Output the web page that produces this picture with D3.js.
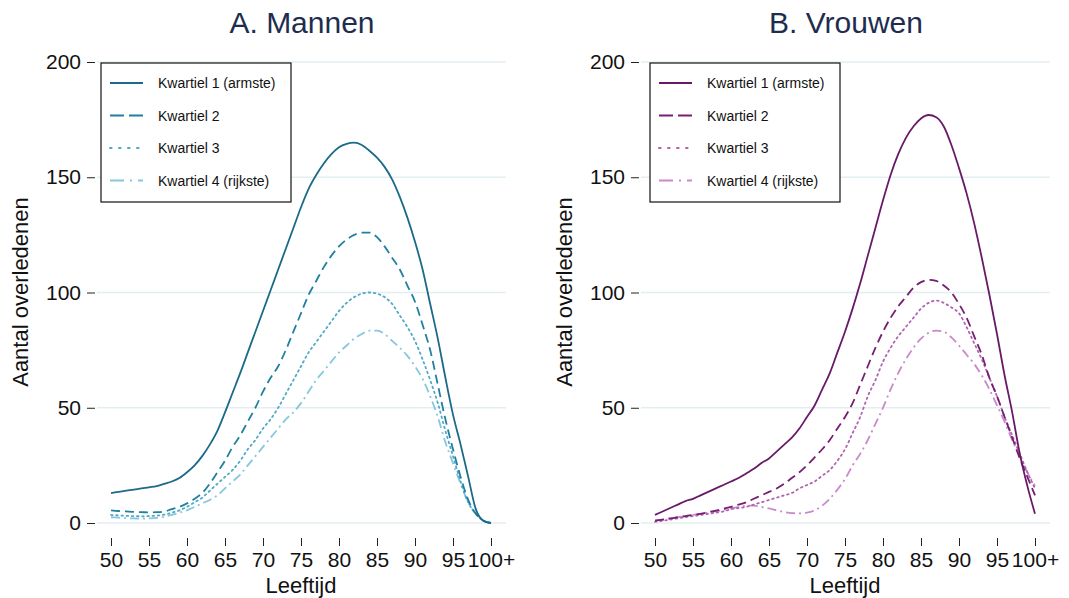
<!DOCTYPE html>
<html>
<head>
<meta charset="utf-8">
<script src="https://cdn.jsdelivr.net/npm/d3@7"></script>
<style>
  body { margin: 0; background: #fff; }
  text { font-family: "Liberation Sans", Arial, sans-serif; }
</style>
</head>
<body>
<script>
// leeftijd 50 .. 100+
var ages = [50,51,52,53,54,55,56,57,58,59,60,61,62,63,64,65,66,67,68,69,70,71,72,73,74,75,76,77,78,79,
            80,81,82,83,84,85,86,87,88,89,90,91,92,93,94,95,96,97,98,99,100];

var xTicks = [50,55,60,65,70,75,80,85,90,95,100];
var xTickLabels = ["50","55","60","65","70","75","80","85","90","95","100+"];
var yTicks = [0,50,100,150,200];

var legendLabels = ["Kwartiel 1 (armste)","Kwartiel 2","Kwartiel 3","Kwartiel 4 (rijkste)"];

// Mannen
var menQ1 = [13,13.5,14,14.5,15,15.5,16,17,18,19.5,
             22,25,29,34,40,48,56.5,65,74,83,
             92,101,110,119,128,137,145,151,156,160,
             163,164.5,165,164,161.5,158.5,154.5,149,141.5,132.5,
             122,110,95,80,63,47,34,20,6,1,0];
var menQ2 = [5.5,5.2,5,4.8,4.7,4.6,4.7,5,6,7,
             8.5,10.5,13,17,22,27,33,38,44,50,
             57,63,68,75,83,91,99,105,111,116,
             120,123,125,126,126,124,120,115,110,103,
             96,86,75,60,45,32,20,10,4,1,0];
var menQ3 = [3.5,3.3,3.1,3,2.9,3,3.2,3.6,4.5,5.5,
             7,9,11,14,17,20,23,27,32,36,
             41,45,50,56,62,68,74,78.5,83,87.5,
             92,95.5,98,99.5,100,99.5,98,95,90,85,
             79,71,62,52,40,29,18,9,4,1,0];
var menQ4 = [2.5,2.3,2.1,2,1.9,2,2.2,2.7,3.5,4.5,
             5.5,7,8.5,10,12,15,18,21,25,29,
             33,37,41,45,48,52,57,62,66,70,
             74,77,80,82,83.5,83.5,82,79,76,72.5,
             68,62.5,55,46,35,26,17,9,4,1,0];

// Vrouwen
var womenQ1 = [3.5,5,6.5,8,9.5,10.5,12,13.5,15,16.5,
               18,19.5,21.5,23.5,26,28,31,34,37,41,
               46,51,58,65,74,83,93,104,116,128,
               140,151,160,167,172,175.5,177,176,172,164,
               154,143,130,115,99,82,64,48,30,16,4];
var womenQ2 = [1,1.5,2,2.5,3,3.5,4,4.7,5.4,6.2,
               7,8,9,10.5,12,13.5,15,17,19.5,22,
               25,28.5,32,36,41,46,52,60,68,76,
               83,89,94,98,102,104.5,105.5,105,103,100,
               95,89,81,73,63,55,46,37,28,20,12];
var womenQ3 = [0.5,1,1.5,2,2.5,3,3.5,4,4.5,5,
               6,6.5,7,8,9,10,11,12,13,15,
               16.5,18,20.5,23,27,32,39,46,55,62,
               70,76,81,85,89,93,95.5,96.5,95.5,93.5,
               91,85,78,71,63,55,46,38,30,22,15];
var womenQ4 = [1,1.5,2,2.5,3,3.5,4,4.5,5,5.6,
               6.3,7,7.5,7.5,7,6.3,5.5,4.8,4.3,4.2,
               4.5,5.5,7.5,10.5,14.5,19,25,30,36,43,
               50,58,65,71,76,80,82.5,83.5,83,80.5,
               77,73,69,64,58,51,44,36,29,22,16];

var menColors = ["#1b6a87","#21809f","#4fa9c7","#86c7de"];
var womenColors = ["#681a68","#751f72","#b064b0","#c98ac9"];

// stijl per kwartiel: solid, dash, dot, dash-dot
var chartDash = [null, "9,5", "1.6,3.6", "9,4,2,4"];
var legendDash = [null, "14,5", "1.6,7.4", "14,6,2,6"];

var width = 1069, height = 598;

var svg = d3.select("body").append("svg")
    .attr("width", width)
    .attr("height", height);

var panels = [
  {title: "A. Mannen", titleX: 302, off: 0, legendX: 101, colors: menColors,
   series: [menQ1, menQ2, menQ3, menQ4]},
  {title: "B. Vrouwen", titleX: 846, off: 544, legendX: 650, colors: womenColors,
   series: [womenQ1, womenQ2, womenQ3, womenQ4]}
];

var y = d3.scaleLinear().domain([0, 200]).range([523, 62]);

panels.forEach(function(p) {
  var x = d3.scaleLinear().domain([50, 100]).range([111 + p.off, 491 + p.off]);
  var g = svg.append("g");

  // titel
  g.append("text")
      .attr("x", p.titleX)
      .attr("y", 33)
      .attr("text-anchor", "middle")
      .style("font-size", "30px")
      .style("fill", "#1e2d4f")
      .text(p.title);

  // grid
  g.selectAll(".grid")
      .data(yTicks)
    .enter().append("line")
      .attr("x1", 97 + p.off)
      .attr("x2", 506 + p.off)
      .attr("y1", function(d) { return y(d); })
      .attr("y2", function(d) { return y(d); })
      .style("stroke", "#e4eef2")
      .style("stroke-width", 1.3);

  // y as
  var yAxis = d3.axisLeft(y).tickValues(yTicks).tickSize(8).tickPadding(6);
  var ya = g.append("g")
      .attr("transform", "translate(" + (95 + p.off) + ",0)")
      .call(yAxis);
  ya.select(".domain").remove();
  ya.selectAll("text").style("font-size", "21px").style("fill", "#111");
  ya.selectAll("line").style("stroke", "#222");

  // x as
  var xAxis = d3.axisBottom(x).tickValues(xTicks)
      .tickFormat(function(d, i) { return xTickLabels[i]; })
      .tickSize(8).tickPadding(6);
  var xa = g.append("g")
      .attr("transform", "translate(0,538)")
      .call(xAxis);
  xa.select(".domain").remove();
  xa.selectAll("text").style("font-size", "21px").style("fill", "#111");
  xa.selectAll("line").style("stroke", "#222");

  // as titels
  g.append("text")
      .attr("x", 301 + p.off)
      .attr("y", 593)
      .attr("text-anchor", "middle")
      .style("font-size", "22px")
      .style("fill", "#111")
      .text("Leeftijd");

  g.append("text")
      .attr("transform", "translate(" + (28 + p.off) + ",292) rotate(-90)")
      .attr("text-anchor", "middle")
      .style("font-size", "22px")
      .style("fill", "#111")
      .text("Aantal overledenen");

  // lijnen
  var line = d3.line()
      .x(function(d, i) { return x(ages[i]); })
      .y(function(d) { return y(d); })
      .curve(d3.curveMonotoneX);

  p.series.slice().reverse().forEach(function(s, j) {
    var k = 3 - j;
    g.append("path")
        .datum(s)
        .attr("d", line)
        .style("fill", "none")
        .style("stroke", p.colors[k])
        .style("stroke-width", 1.8)
        .style("stroke-linecap", k == 2 ? "round" : "butt")
        .style("stroke-dasharray", chartDash[k]);
  });

  // legenda
  var lg = g.append("g").attr("transform", "translate(" + p.legendX + ",63)");
  lg.append("rect")
      .attr("width", 190)
      .attr("height", 139)
      .style("fill", "#fff")
      .style("stroke", "#111")
      .style("stroke-width", 1.2);

  legendLabels.forEach(function(lab, k) {
    var ly = 20 + k * 32.5;
    lg.append("line")
        .attr("x1", 9).attr("x2", 42)
        .attr("y1", ly).attr("y2", ly)
        .style("stroke", p.colors[k])
        .style("stroke-width", 2)
        .style("stroke-linecap", k == 2 ? "round" : "butt")
        .style("stroke-dasharray", legendDash[k]);
    lg.append("text")
        .attr("x", 57)
        .attr("y", ly + 5)
        .style("font-size", "14px")
        .style("fill", "#111")
        .text(lab);
  });
});
</script>
</body>
</html>
